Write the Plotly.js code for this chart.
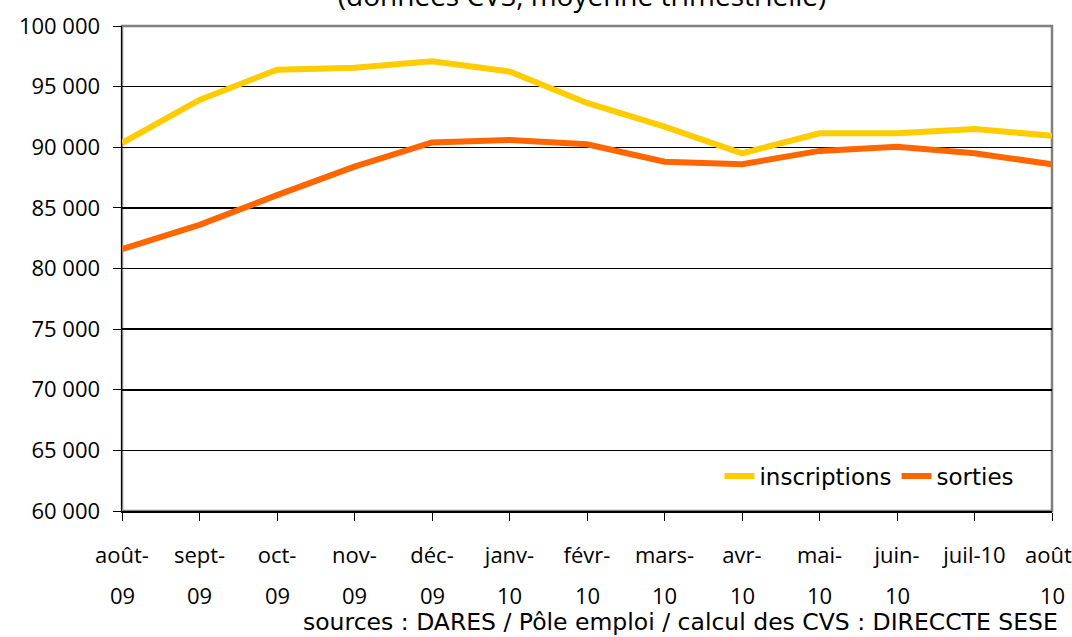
<!DOCTYPE html>
<html>
<head>
<meta charset="utf-8">
<script src="https://cdn.plot.ly/plotly-3.0.1.min.js"></script>
<style>html,body{margin:0;padding:0;background:#fff;}#chart{width:1072px;height:637px;}</style>
</head>
<body>
<div id="chart"></div>
<script>
const categories = ["août-09","sept-09","oct-09","nov-09","déc-09","janv-10","févr-10","mars-10","avr-10","mai-10","juin-10","juil-10","août-10"];
const labelsTop = ["août-","sept-","oct-","nov-","déc-","janv-","févr-","mars-","avr-","mai-","juin-","juil-10","août-"];
const labelsBottom = ["09","09","09","09","09","10","10","10","10","10","10","","10"];
const inscriptions = [90350,93900,96400,96550,97100,96250,93650,91700,89500,91150,91150,91500,90950];
const sorties = [81600,83600,86050,88400,90400,90600,90250,88800,88600,89700,90050,89500,88600];
const yTicks = [60000,65000,70000,75000,80000,85000,90000,95000,100000];
const yTickText = yTicks.map(v => (v/1000).toFixed(0) + " 000");

const traces = [
  {x: categories, y: inscriptions, name: "inscriptions", type: "scatter", mode: "lines",
   line: {color: "#FFCC00", width: 6}},
  {x: categories, y: sorties, name: "sorties", type: "scatter", mode: "lines",
   line: {color: "#FF6600", width: 6}}
];

const annotations = categories.map((c, i) => ({
  x: c, xref: "x", y: -0.173, yref: "paper", text: labelsBottom[i], showarrow: false,
  xanchor: "center", yanchor: "middle", font: {family: "Open Sans", size: 22, color: "#000"}
}));
annotations.push({
  x: 1.0086, xref: "paper", y: -0.229, yref: "paper", xanchor: "right", yanchor: "middle",
  text: "sources : DARES / Pôle emploi / calcul des CVS : DIRECCTE SESE", showarrow: false,
  font: {family: "DejaVu Sans", size: 23.5, color: "#000"}
});

const layout = {
  width: 1072, height: 637,
  margin: {l: 122, r: 20, t: 26, b: 126},
  paper_bgcolor: "#fff", plot_bgcolor: "#fff",
  title: {text: "(données CVS, moyenne trimestrielle)", font: {family: "Open Sans", size: 28, color: "#000"},
          x: 0.543, xanchor: "center", y: 0.991, yref: "container", yanchor: "bottom"},
  showlegend: true,
  legend: {orientation: "h", x: 0.965, xanchor: "right", y: 0.072, yanchor: "middle",
           font: {family: "DejaVu Sans", size: 23, color: "#000"}, bgcolor: "rgba(0,0,0,0)",
           itemwidth: 30, tracegroupgap: 0},
  xaxis: {type: "category", range: [0, 12], tickmode: "array", tickvals: categories, ticktext: labelsTop,
          ticks: "outside", ticklen: 8, tickcolor: "#000", tickwidth: 1,
          showline: true, linecolor: "#000", linewidth: 1.5, showgrid: false, zeroline: false,
          ticklabelstandoff: 16, tickangle: 0,
          tickfont: {family: "Open Sans", size: 22, color: "#000"}},
  yaxis: {range: [60000, 100000], tickmode: "array", tickvals: yTicks, ticktext: yTickText,
          ticks: "outside", ticklen: 8, tickcolor: "#000", tickwidth: 1,
          showline: true, linecolor: "#000", linewidth: 1.5,
          showgrid: true, gridcolor: "#000", gridwidth: 1.5, zeroline: false,
          ticklabelstandoff: 8,
          tickfont: {family: "Open Sans", size: 22, color: "#000"}},
  shapes: [
    {type: "rect", xref: "paper", yref: "paper", x0: 0, x1: 1, y0: 0, y1: 1,
     line: {color: "#808080", width: 2.5}, layer: "between"}
  ],
  annotations: annotations
};

Plotly.newPlot("chart", traces, layout, {displayModeBar: false, staticPlot: true});
</script>
</body>
</html>
